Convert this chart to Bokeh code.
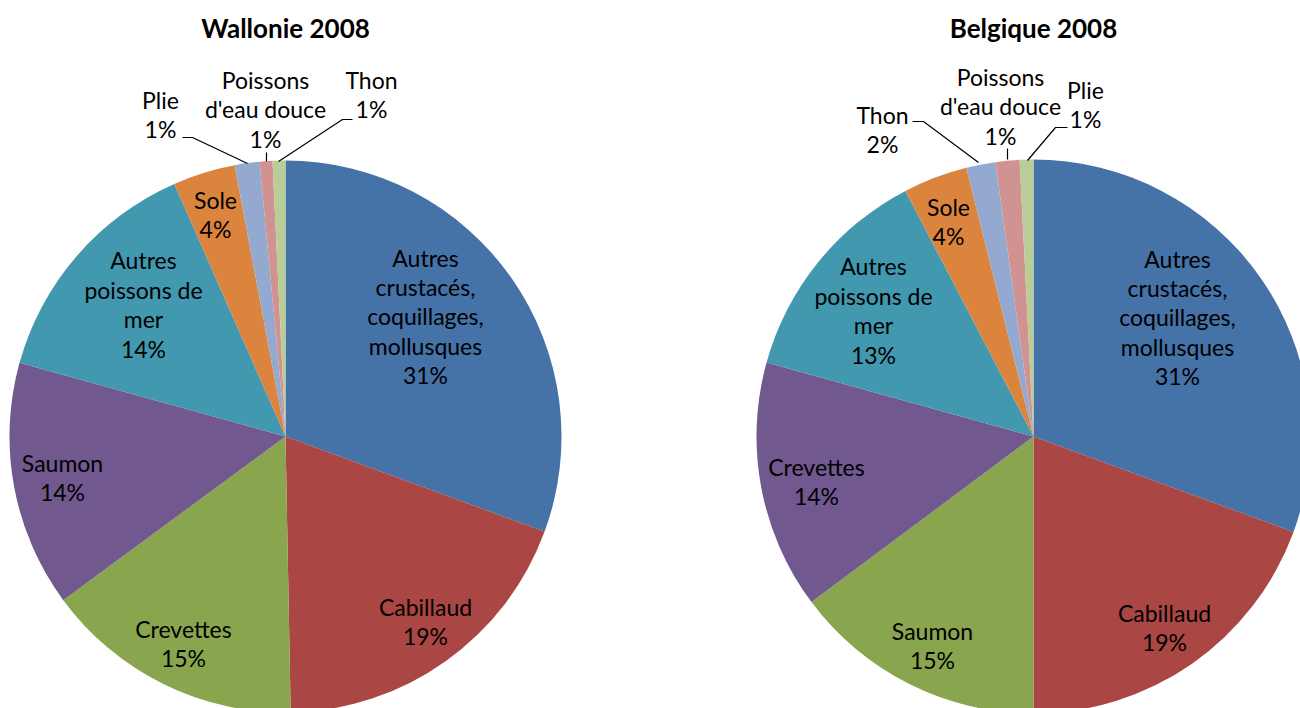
import math
from bokeh.plotting import figure
from bokeh.models import Range1d, ColumnDataSource
from bokeh.core.properties import value
from bokeh.embed import file_html
from bokeh.resources import INLINE

# ---------------- data ----------------
titles = ["Wallonie 2008", "Belgique 2008"]

categories_w = ["Autres\ncrustacés,\ncoquillages,\nmollusques", "Cabillaud", "Crevettes",
                "Saumon", "Autres\npoissons de\nmer", "Sole", "Plie",
                "Poissons\nd'eau douce", "Thon"]
values_w = [30.6, 19.1, 15.2, 14.4, 14.1, 3.65, 1.45, 0.75, 0.75]

categories_b = ["Autres\ncrustacés,\ncoquillages,\nmollusques", "Cabillaud", "Saumon",
                "Crevettes", "Autres\npoissons de\nmer", "Sole", "Thon",
                "Poissons\nd'eau douce", "Plie"]
values_b = [30.6, 19.4, 14.8, 14.5, 13.05, 3.75, 1.7, 1.4, 0.8]

colors = ["#4572A7", "#AA4643", "#89A54E", "#71588F", "#4198AF",
          "#DB843D", "#93A9CF", "#D19392", "#B9CD96"]

# ---------------- layout (screen pixels) ----------------
centers = [(285, 436), (1033, 436)]
radii = [276, 277]
title_pos = [(285, 27), (1033, 27)]
label_pos_w = [(425, 316), (425, 621), (183, 643), (62, 477), (143, 304),
               (215, 214), (160, 114), (265, 109), (371, 94)]
label_pos_b = [(1177, 317), (1164, 627), (932, 645), (816, 481), (873, 310),
               (948, 221), (882, 129), (1000, 106), (1085, 104)]
leaders_w = [None, None, None, None, None, None,
             [(182, 137), (192, 137), (247, 163)],
             [(266, 152), (266, 161)],
             [(352, 119), (342, 119), (278, 161)]]
leaders_b = [None, None, None, None, None, None,
             [(912, 121), (923, 121), (978, 162)],
             [(1007, 148), (1007, 159)],
             [(1067, 127), (1055, 127), (1027, 160)]]

FONT = "Lato"

p = figure(width=1300, height=708, x_range=Range1d(0, 1300), y_range=Range1d(-708, 0),
           output_backend="svg", toolbar_location=None, min_border=0,
           x_axis_location=None, y_axis_location=None)
p.grid.visible = False
p.outline_line_color = None
p.background_fill_color = "white"
p.border_fill_color = "white"

pies = [(categories_w, values_w, label_pos_w, leaders_w),
        (categories_b, values_b, label_pos_b, leaders_b)]

for i, (cats, vals, lpos, leads) in enumerate(pies):
    cx, cy = centers[i]
    r = radii[i]
    total = sum(vals)
    starts, ends = [], []
    cum = 0.0
    for v in vals:
        a = cum / total
        cum += v
        b = cum / total
        starts.append(math.pi / 2 - 2 * math.pi * b)
        ends.append(math.pi / 2 - 2 * math.pi * a)
    src = ColumnDataSource(dict(start=starts, end=ends, color=colors[:len(vals)]))
    p.wedge(x=cx, y=-cy, radius=r, start_angle="start", end_angle="end",
            direction="anticlock", fill_color="color", line_color=None, source=src)

    # leader lines
    for ld in leads:
        if ld:
            p.line([q[0] for q in ld], [-q[1] for q in ld], line_color="black", line_width=1.2)

    texts = [f"{c}\n{int(v / total * 100 + 0.5)}%" for c, v in zip(cats, vals)]
    p.text(x=[q[0] for q in lpos], y=[-q[1] for q in lpos], text=texts,
           text_font=value(FONT), text_font_size="23px", text_color="black",
           text_align="center", text_baseline="middle", text_line_height=1.05)

    tx, ty = title_pos[i]
    p.text(x=[tx], y=[-ty], text=[titles[i]], text_font=value(FONT),
           text_font_size="26px", text_font_style="bold", text_color="black",
           text_align="center", text_baseline="middle")

open("out.html", "w").write(file_html(p, INLINE))
